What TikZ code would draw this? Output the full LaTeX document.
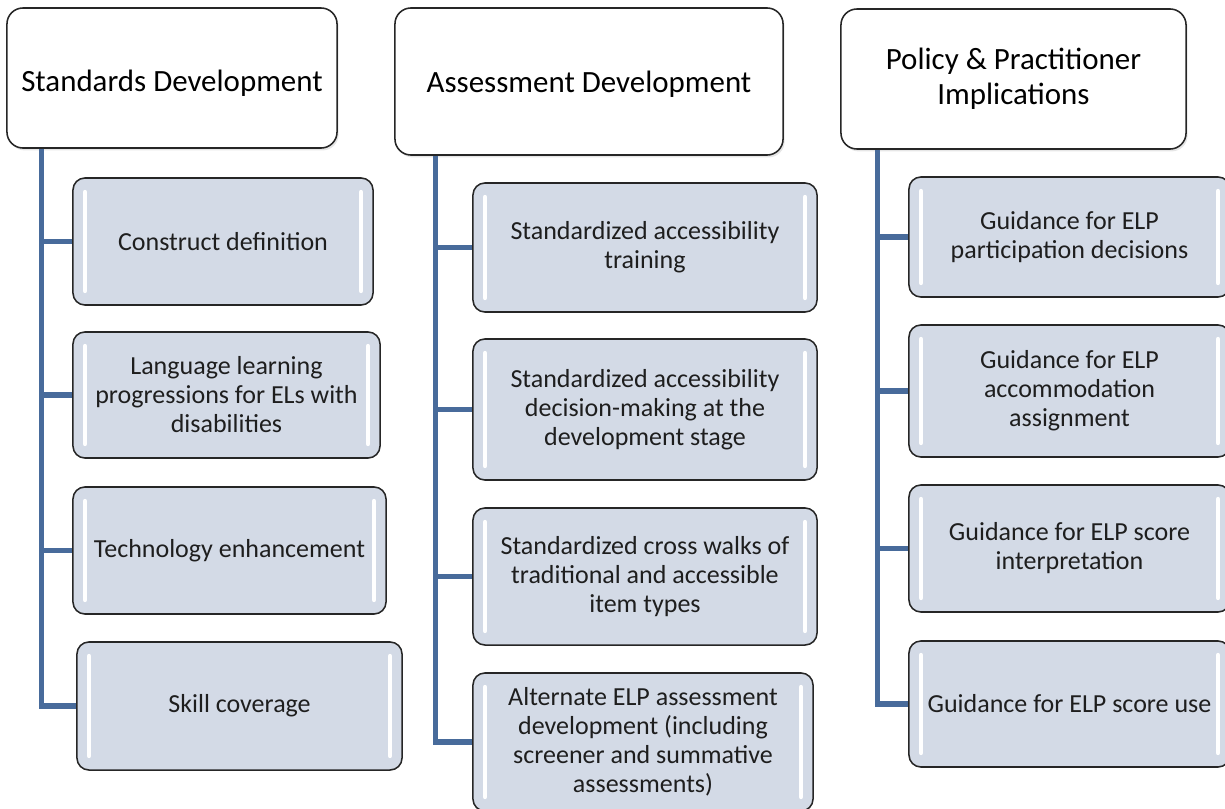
\documentclass[tikz,border=0pt]{standalone}
\usepackage{fontspec}
\setmainfont{Carlito}
\usetikzlibrary{calc,shadows}

\definecolor{trunkblue}{RGB}{72,107,155}
\definecolor{itemfill}{RGB}{211,218,230}
\definecolor{textgray}{RGB}{30,30,30}

\tikzset{
  headbox/.style={draw=black!85, fill=white, line width=1.1pt, rounded corners=0.4cm,
    align=center, inner sep=0pt, text=black,
    font=\fontsize{22}{24.9}\selectfont,
    drop shadow={opacity=0.2, shadow xshift=0.04cm, shadow yshift=-0.06cm}},
  itembox/.style={draw=black!85, fill=itemfill, line width=1.1pt, rounded corners=0.3cm,
    align=center, inner sep=0pt, text=textgray,
    font=\fontsize{18.5}{20.6}\selectfont,
    path picture={
      \draw[white, line width=3pt, line cap=round]
        ([xshift=0.3cm, yshift=-0.35cm]path picture bounding box.north west)
        -- ([xshift=0.3cm, yshift=0.35cm]path picture bounding box.south west);
      \draw[white, line width=3pt, line cap=round]
        ([xshift=-0.3cm, yshift=-0.35cm]path picture bounding box.north east)
        -- ([xshift=-0.3cm, yshift=0.35cm]path picture bounding box.south east);
    }},
  trunk/.style={draw=trunkblue, line width=3.6pt}
}

\begin{document}
\begin{tikzpicture}[x=0.025cm, y=-0.025cm]
    \path[use as bounding box, clip] (0,0) rectangle (1225,809);

    \node[headbox, minimum width=8.25cm, minimum height=3.5cm, text height=23pt] (H1) at (172,78) {Standards Development};
    \node[headbox, minimum width=9.7cm, minimum height=3.675cm, text height=19.5pt] (H2) at (589,81.5) {Assessment Development};
    \node[headbox, minimum width=8.625cm, minimum height=3.5cm] (H3) at (1013.5,79) {Policy \& Practitioner\\Implications};

    \node[itembox, minimum width=7.5cm, minimum height=3.175cm] (S1) at (223,241.5) {Construct definition};
    \node[itembox, minimum width=7.675cm, minimum height=3.15cm] (S2) at (226.5,395) {Language learning\\progressions for ELs with\\disabilities};
    \node[itembox, minimum width=7.825cm, minimum height=3.175cm] (S3) at (229.5,550.5) {Technology enhancement};
    \node[itembox, minimum width=8.125cm, minimum height=3.2cm] (S4) at (239.5,706) {Skill coverage};

    \node[itembox, minimum width=8.6cm, minimum height=3.225cm] (A1) at (645,247.5) {Standardized accessibility\\training};
    \node[itembox, minimum width=8.6cm, minimum height=3.525cm] (A2) at (645,409.5) {Standardized accessibility\\decision-making at the\\development stage};
    \node[itembox, minimum width=8.6cm, minimum height=3.425cm] (A3) at (645,576.5) {Standardized cross walks of\\traditional and accessible\\item types};
    \node[itembox, minimum width=8.5cm, minimum height=3.45cm] (A4) at (643,742) {Alternate ELP assessment\\development (including\\screener and summative\\assessments)};

    \node[itembox, minimum width=8.025cm, minimum height=3.0cm] (P1) at (1069.5,237) {Guidance for ELP\\participation decisions};
    \node[itembox, minimum width=8.025cm, minimum height=3.3cm] (P2) at (1069.5,391) {Guidance for ELP\\accommodation\\assignment};
    \node[itembox, minimum width=8.025cm, minimum height=3.175cm] (P3) at (1069.5,548.5) {Guidance for ELP score\\interpretation};
    \node[itembox, minimum width=8.025cm, minimum height=3.15cm] (P4) at (1069.5,704) {Guidance for ELP score use};

    \coordinate (t1) at ([xshift=0.875cm]H1.south west);
    \coordinate (t2) at ([xshift=1.025cm]H2.south west);
    \coordinate (t3) at ([xshift=0.925cm]H3.south west);

    \draw[trunk] (t1) |- (S4.west);
    \draw[trunk] (t2) |- (A4.west);
    \draw[trunk] (t3) |- (P4.west);
    \foreach \n in {S1,S2,S3}
      \draw[trunk] (\n.west) -- (\n.west -| t1);
    \foreach \n in {A1,A2,A3}
      \draw[trunk] (\n.west) -- (\n.west -| t2);
    \foreach \n in {P1,P2,P3}
      \draw[trunk] (\n.west) -- (\n.west -| t3);
\end{tikzpicture}
\end{document}
